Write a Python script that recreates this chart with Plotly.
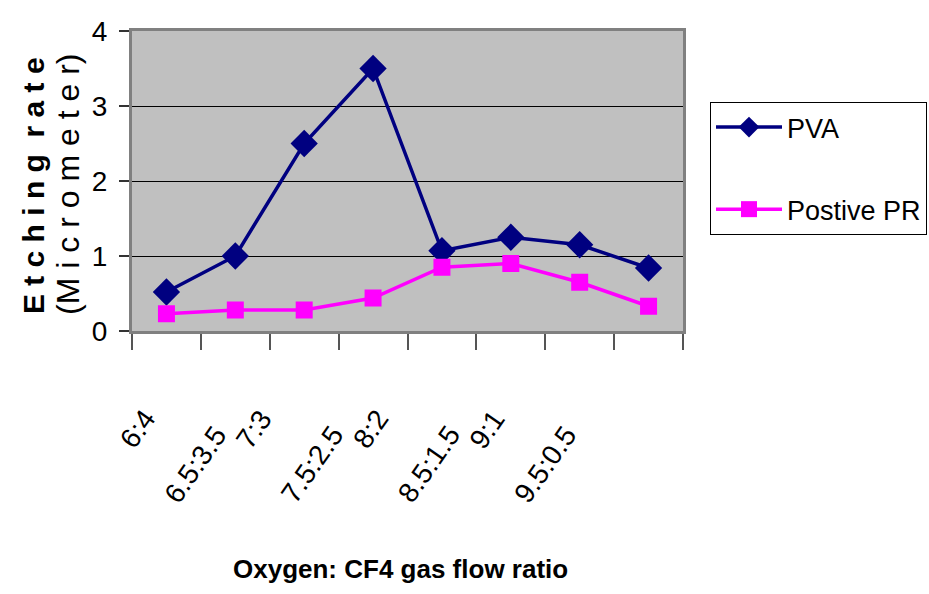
import plotly.graph_objects as go

categories = ["6:4", "6.5:3.5", "7:3", "7.5:2.5", "8:2", "8.5:1.5", "9:1", "9.5:0.5"]
pva = [0.52, 1.0, 2.5, 3.5, 1.07, 1.25, 1.15, 0.84]
positive_pr = [0.23, 0.28, 0.28, 0.44, 0.85, 0.9, 0.65, 0.33]
y_ticks = [0, 1, 2, 3, 4]

FONT = "Liberation Sans, Arial"

fig = go.Figure()
fig.add_trace(go.Scatter(
    x=categories, y=pva, name="PVA", mode="lines+markers",
    line=dict(color="#000080", width=3.5),
    marker=dict(symbol="diamond", size=21, color="#000080"),
    legendgroup="a",
))
fig.add_trace(go.Scatter(
    x=categories, y=positive_pr, name="Postive PR", mode="lines+markers",
    line=dict(color="#FF00FF", width=3.5),
    marker=dict(symbol="square", size=17, color="#FF00FF"),
    legendgroup="b",
))

# x tick labels drawn as staggered rotated annotations (Excel-style)
for i, lab in enumerate(categories):
    cx = 137 + 58.3 * i
    cy = 429 if i % 2 == 0 else 464
    fig.add_annotation(
        text=lab, xref="paper", yref="paper", x=0, y=0,
        xshift=cx - 132, yshift=-(cy - 331),
        xanchor="center", yanchor="middle", textangle=-55,
        showarrow=False, font=dict(family=FONT, size=28, color="black"),
    )

# y-axis title (two lines)
fig.add_annotation(
    text="<b>E t c h i n g  r a t e</b>", xref="paper", yref="paper",
    x=0, y=0.483, xshift=33 - 132, xanchor="center", yanchor="middle",
    textangle=-90, showarrow=False,
    font=dict(family=FONT, size=30, color="black"),
)
fig.add_annotation(
    text="(M i c r o m e t e r)", xref="paper", yref="paper",
    x=0, y=0.487, xshift=68 - 132, xanchor="center", yanchor="middle",
    textangle=-90, showarrow=False,
    font=dict(family=FONT, size=32, color="black"),
)
# x-axis title
fig.add_annotation(
    text="<b>Oxygen: CF4 gas flow ratio</b>", xref="paper", yref="paper",
    x=0, y=0, xshift=400 - 132, yshift=-(569 - 331),
    xanchor="center", yanchor="middle", showarrow=False,
    font=dict(family=FONT, size=26, color="black"),
)

fig.update_layout(
    width=929, height=594,
    margin=dict(l=132, r=246, t=31, b=263),
    paper_bgcolor="white",
    plot_bgcolor="#C0C0C0",
    showlegend=True,
    legend=dict(
        xref="container", yref="container",
        x=710 / 929, y=1 - 102 / 594, xanchor="left", yanchor="top",
        bgcolor="white", bordercolor="black", borderwidth=1,
        font=dict(family=FONT, size=27, color="black"),
        tracegroupgap=44, itemwidth=66,
    ),
    xaxis=dict(
        type="category", range=[-0.5, 7.5], showticklabels=False,
        tickson="boundaries", ticks="outside", ticklen=16, tickcolor="#555555",
        tickwidth=2, showgrid=False, showline=True, linecolor="#808080",
        linewidth=3, mirror=True, zeroline=False,
    ),
    yaxis=dict(
        range=[0, 4], tickvals=y_ticks, ticks="outside", ticklen=10,
        tickcolor="#333333", tickwidth=1.5, showgrid=True, gridcolor="black",
        gridwidth=1, showline=True, linecolor="#808080", linewidth=3,
        mirror=True, zeroline=False, ticklabelstandoff=6,
        tickfont=dict(family=FONT, size=28, color="black"),
    ),
)

fig.write_html("out.html")
